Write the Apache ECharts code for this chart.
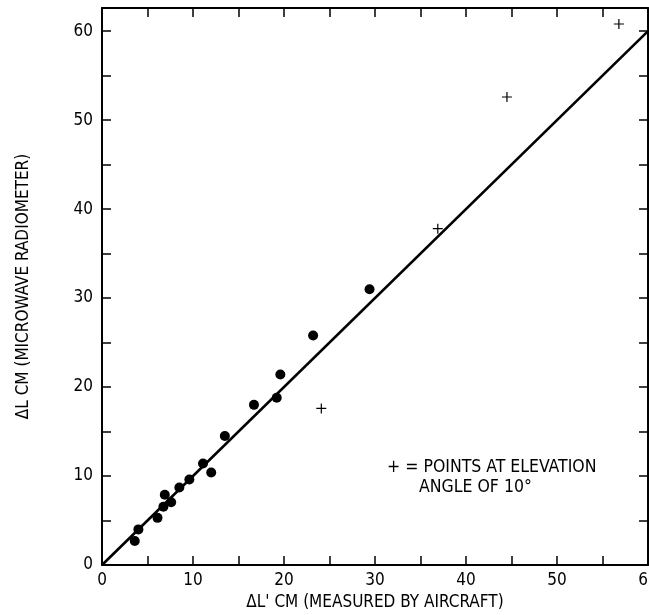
<!DOCTYPE html>
<html>
<head>
<meta charset="utf-8">
<script src="https://cdn.jsdelivr.net/npm/echarts@6/dist/echarts.min.js"></script>
<style>
html,body{margin:0;padding:0;background:#fff;}
#chart{width:649px;height:615px;}
</style>
</head>
<body>
<div id="chart"></div>
<script>
// dots: measured by aircraft vs microwave radiometer
const dotX=[3.6,4.0,6.1,6.75,6.9,7.6,8.5,9.6,11.1,12.0,13.5,16.7,19.2,19.6,23.2,29.4]
const dotY=[2.7,4.0,5.3,6.55,7.9,7.05,8.7,9.6,11.4,10.4,14.5,18.0,18.8,21.4,25.8,31.0]
// crosses: points at 10 deg elevation
const crossX=[24.1,36.9,44.5,56.8]
const crossY=[17.6,37.8,52.6,60.8]
// 1:1 reference line
const lineX=[0,60]
const lineY=[0,60]
const xTicks=[0,10,20,30,40,50,60]
const yTicks=[0,10,20,30,40,50,60]

const font='"DejaVu Sans Condensed","Liberation Sans Narrow",sans-serif'
const ink='#000'
const plus='path://M4.4,0H5.6V10H4.4Z M0,4.4H10V5.6H0Z'

const chart=echarts.init(document.getElementById('chart'))
const axisLine={show:true,onZero:false,lineStyle:{color:ink,width:2}}
const tick={show:true,inside:true,length:9,lineStyle:{color:ink,width:1.5}}
const lbl=(ticks)=>({
    show:true,color:ink,fontFamily:font,fontSize:17,
    formatter:v=>ticks.indexOf(v)>=0?String(v):''
})
chart.setOption({
    backgroundColor:'#fff',
    animation:false,
    grid:{left:102,right:1,top:8,bottom:50,outerBoundsMode:'none',containLabel:false},
    xAxis:[
        {type:'value',min:0,max:60,interval:5,position:'bottom',
         axisLine,axisTick:tick,splitLine:{show:false},
         axisLabel:Object.assign(lbl(xTicks),{margin:7}),
         name:"ΔL' CM (MEASURED BY AIRCRAFT)",nameLocation:'middle',nameGap:22,
         nameTextStyle:{color:ink,fontFamily:font,fontSize:17}},
        {type:'value',min:0,max:60,interval:5,position:'top',
         axisLine,axisTick:tick,splitLine:{show:false},axisLabel:{show:false}}
    ],
    yAxis:[
        {type:'value',min:0,max:62.6,interval:5,position:'left',
         axisLine,axisTick:tick,splitLine:{show:false},
         axisLabel:Object.assign(lbl(yTicks),{margin:9}),
         name:'ΔL CM (MICROWAVE RADIOMETER)',nameLocation:'middle',nameGap:70,
         nameTextStyle:{color:ink,fontFamily:font,fontSize:17}},
        {type:'value',min:0,max:62.6,interval:5,position:'right',
         axisLine,axisTick:tick,splitLine:{show:false},axisLabel:{show:false}}
    ],
    graphic:[
        {type:'text',left:387,top:458,style:{text:'+ = POINTS AT ELEVATION',fill:ink,font:'17.5px '+font}},
        {type:'text',left:419,top:478,style:{text:'ANGLE OF 10°',fill:ink,font:'17.5px '+font}}
    ],
    series:[
        {type:'line',data:lineX.map((x,i)=>[x,lineY[i]]),symbol:'none',
         lineStyle:{color:ink,width:2.6}},
        {type:'scatter',data:dotX.map((x,i)=>[x,dotY[i]]),symbol:'circle',symbolSize:10,
         itemStyle:{color:ink,opacity:1}},
        {type:'scatter',data:crossX.map((x,i)=>[x,crossY[i]]),symbol:plus,symbolSize:10,
         itemStyle:{color:ink,opacity:1}}
    ]
})
</script>
</body>
</html>
